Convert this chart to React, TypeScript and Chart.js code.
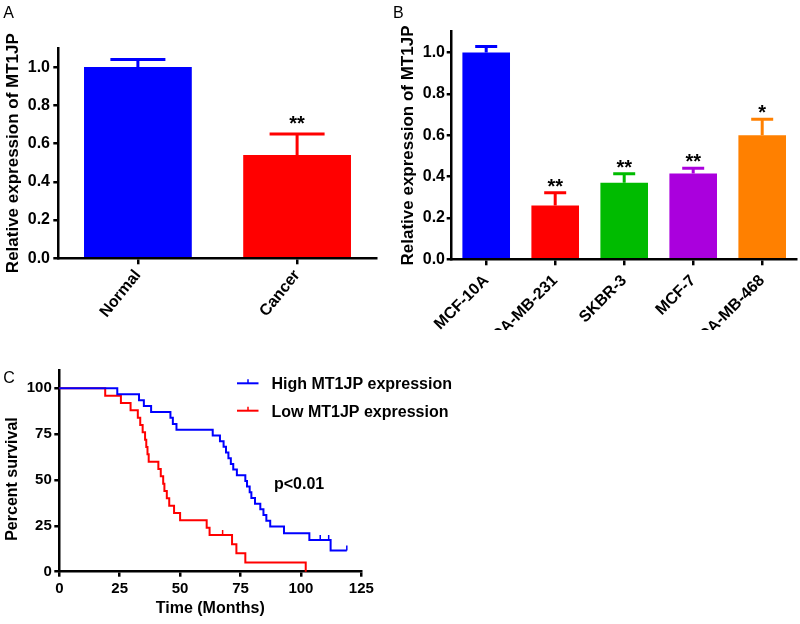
import React, { useEffect, useRef } from 'react';
import { Chart, registerables } from 'chart.js';

Chart.register(...registerables);

const FONT = "'Liberation Sans', Arial, Helvetica, sans-serif";

// ---------- Panel A ----------
const A_CATEGORIES = ['Normal', 'Cancer'];
const A_VALUES = [1.0, 0.54];
const A_ERRORS = [0.04, 0.11];
const A_COLORS = ['#0000FF', '#FF0000'];
const A_STARS = ['', '**'];
const A_Y_TICKS = [0, 0.2, 0.4, 0.6, 0.8, 1.0];

// ---------- Panel B ----------
const B_CATEGORIES = ['MCF-10A', 'MDA-MB-231', 'SKBR-3', 'MCF-7', 'MDA-MB-468'];
const B_VALUES = [1.0, 0.26, 0.37, 0.415, 0.6];
const B_ERRORS = [0.028, 0.062, 0.043, 0.025, 0.077];
const B_COLORS = ['#0000FF', '#FF0000', '#00BB00', '#AA00DD', '#FF8000'];
const B_STARS = ['', '**', '**', '**', '*'];
const B_Y_TICKS = [0, 0.2, 0.4, 0.6, 0.8, 1.0];

// ---------- Panel C ----------
const C_HIGH_TIMES = [0, 24, 33, 35, 38, 46, 47, 48.5, 63.5, 66.5, 68, 69, 70, 71, 72, 73.5, 77, 77.7, 78.8, 79.5, 81, 83.2, 84.5, 85.7, 87.3, 93, 103.5, 112.3, 119];
const C_HIGH_SURV = [100, 96.8, 93.5, 90.3, 87.1, 83.9, 80.6, 77.4, 74.3, 71.2, 68.1, 65.0, 61.9, 58.8, 55.7, 52.6, 49.5, 46.4, 43.3, 40.2, 37.1, 34.0, 30.9, 27.8, 24.7, 21.0, 17.3, 11.5, 11.5];
const C_HIGH_CENSOR = [108, 111.5, 119];
const C_LOW_TIMES = [0, 19, 25.5, 29.5, 32.5, 33.5, 34.5, 35.5, 36, 36.5, 37, 41, 42, 43, 43.5, 44.5, 45.5, 47.5, 50, 61, 62.2, 71.5, 73.3, 77, 102];
const C_LOW_SURV = [100, 96, 92, 88, 84, 80, 76, 72, 68, 64, 60, 56, 52, 48, 44, 40, 36, 32, 28, 24, 20, 15, 10, 5, 0];
const C_LOW_CENSOR = [67.6];
const C_X_TICKS = [0, 25, 50, 75, 100, 125];
const C_Y_TICKS = [0, 25, 50, 75, 100];
const C_LEGEND = ['High MT1JP expression', 'Low MT1JP expression'];
const C_COLORS = ['#0000FF', '#FF0000'];
const C_PVALUE = 'p<0.01';
const C_Y_TITLE = 'Percent survival';
const C_X_TITLE = 'Time (Months)';
const BAR_Y_TITLE = 'Relative expression of MT1JP';

function boldFont(size: number) {
  return { family: FONT, size, weight: 'bold' as const };
}

function letterPlugin(letter: string, x: number, y: number) {
  return {
    id: 'letter' + letter,
    afterDraw(chart: any) {
      const ctx = chart.ctx;
      ctx.save();
      ctx.fillStyle = '#000';
      ctx.font = `16px ${FONT}`;
      ctx.textAlign = 'left';
      ctx.textBaseline = 'alphabetic';
      ctx.fillText(letter, x, y);
      ctx.restore();
    },
  };
}

function errorPlugin(values: number[], errors: number[], colors: string[], stars: string[], capW: number, starGap: number) {
  return {
    id: 'errorBars',
    afterDatasetsDraw(chart: any) {
      const ctx = chart.ctx;
      const meta = chart.getDatasetMeta(0);
      const ys = chart.scales.y;
      ctx.save();
      meta.data.forEach((bar: any, i: number) => {
        const yv = ys.getPixelForValue(values[i]);
        const yt = ys.getPixelForValue(values[i] + errors[i]);
        ctx.strokeStyle = colors[i];
        ctx.lineWidth = 3;
        ctx.beginPath();
        ctx.moveTo(bar.x, yv);
        ctx.lineTo(bar.x, yt);
        ctx.moveTo(bar.x - capW / 2, yt);
        ctx.lineTo(bar.x + capW / 2, yt);
        ctx.stroke();
        if (stars[i]) {
          ctx.fillStyle = '#000';
          ctx.font = `bold 20px ${FONT}`;
          ctx.textAlign = 'center';
          ctx.textBaseline = 'alphabetic';
          ctx.fillText(stars[i], bar.x, yt - starGap);
        }
      });
      ctx.restore();
    },
  };
}

function axisGrid() {
  return { display: true, drawOnChartArea: false, drawTicks: true, tickLength: 5, color: '#000', lineWidth: 2.5 };
}
function axisBorder() {
  return { display: true, color: '#000', width: 2.5 };
}

function barConfig(
  cats: string[], values: number[], errors: number[], colors: string[], stars: string[], yTicks: number[],
  geo: { top: number; right: number; yW: number; xH: number; barPct: number; titlePad: number; tickPad: number; xFont: number; xRot: number; xPad: number; capW: number; starGap: number; letter: string; lx: number; ly: number }
): any {
  return {
    type: 'bar',
    data: {
      labels: cats,
      datasets: [{ data: values, backgroundColor: colors, borderWidth: 0, barPercentage: geo.barPct, categoryPercentage: 1 }],
    },
    options: {
      animation: false,
      responsive: false,
      maintainAspectRatio: false,
      devicePixelRatio: 1,
      layout: { padding: { top: geo.top, right: geo.right, left: 0, bottom: 0 } },
      plugins: { legend: { display: false }, tooltip: { enabled: false } },
      scales: {
        x: {
          type: 'category',
          offset: true,
          grid: { ...axisGrid(), offset: false, tickLength: 6 },
          border: axisBorder(),
          ticks: { autoSkip: false, minRotation: geo.xRot, maxRotation: geo.xRot, padding: geo.xPad, color: '#000', font: boldFont(geo.xFont) },
          afterFit: (s: any) => { s.height = geo.xH; },
        },
        y: {
          min: 0,
          max: 1.1,
          grid: axisGrid(),
          border: axisBorder(),
          ticks: { padding: geo.tickPad, color: '#000', font: boldFont(16), callback: (v: any) => Number(v).toFixed(1) },
          afterBuildTicks: (s: any) => { s.ticks = yTicks.map((v) => ({ value: v })); },
          afterFit: (s: any) => { s.width = geo.yW; },
          title: { display: true, text: BAR_Y_TITLE, color: '#000', font: boldFont(17), padding: { top: geo.titlePad, bottom: 0 } },
        },
      },
    },
    plugins: [errorPlugin(values, errors, colors, stars, geo.capW, geo.starGap), letterPlugin(geo.letter, geo.lx, geo.ly)],
  };
}

function kmConfig(): any {
  const extras = {
    id: 'kmExtras',
    afterDatasetsDraw(chart: any) {
      const ctx = chart.ctx;
      const xs = chart.scales.x;
      const ys = chart.scales.y;
      const survAt = (times: number[], surv: number[], t: number) => {
        let s = surv[0];
        for (let i = 0; i < times.length; i++) if (times[i] <= t) s = surv[i];
        return s;
      };
      ctx.save();
      ctx.lineWidth = 1.5;
      const groups = [
        { times: C_HIGH_TIMES, surv: C_HIGH_SURV, cens: C_HIGH_CENSOR, color: C_COLORS[0] },
        { times: C_LOW_TIMES, surv: C_LOW_SURV, cens: C_LOW_CENSOR, color: C_COLORS[1] },
      ];
      groups.forEach((g) => {
        ctx.strokeStyle = g.color;
        g.cens.forEach((t) => {
          const px = xs.getPixelForValue(t);
          const py = ys.getPixelForValue(survAt(g.times, g.surv, t));
          ctx.beginPath();
          ctx.moveTo(px, py);
          ctx.lineTo(px, py - 5);
          ctx.stroke();
        });
      });
      // legend
      const legendY = [53.3, 80.7];
      C_LEGEND.forEach((txt, i) => {
        const y = legendY[i];
        ctx.strokeStyle = C_COLORS[i];
        ctx.lineWidth = 2;
        ctx.beginPath();
        ctx.moveTo(237, y);
        ctx.lineTo(258.5, y);
        ctx.stroke();
        ctx.lineWidth = 1.5;
        ctx.beginPath();
        ctx.moveTo(248, y);
        ctx.lineTo(248, y - 4);
        ctx.stroke();
        ctx.fillStyle = '#000';
        ctx.font = `bold 16px ${FONT}`;
        ctx.textAlign = 'left';
        ctx.textBaseline = 'middle';
        ctx.fillText(txt, 271.5, y + 1.5);
      });
      ctx.font = `bold 16px ${FONT}`;
      ctx.textAlign = 'left';
      ctx.textBaseline = 'alphabetic';
      ctx.fillStyle = '#000';
      ctx.fillText(C_PVALUE, 274, 159);
      // y-axis title
      ctx.save();
      ctx.translate(12.5, 149);
      ctx.rotate(-Math.PI / 2);
      ctx.textAlign = 'center';
      ctx.textBaseline = 'middle';
      ctx.fillText(C_Y_TITLE, 0, 0);
      ctx.restore();
      ctx.restore();
    },
  };
  return {
    type: 'line',
    data: {
      datasets: [
        { label: C_LEGEND[0], data: C_HIGH_TIMES.map((t, i) => ({ x: t, y: C_HIGH_SURV[i] })), borderColor: C_COLORS[0], borderWidth: 2, pointRadius: 0, stepped: true, fill: false, clip: false },
        { label: C_LEGEND[1], data: C_LOW_TIMES.map((t, i) => ({ x: t, y: C_LOW_SURV[i] })), borderColor: C_COLORS[1], borderWidth: 2, pointRadius: 0, stepped: true, fill: false, clip: false },
      ],
    },
    options: {
      animation: false,
      responsive: false,
      maintainAspectRatio: false,
      devicePixelRatio: 1,
      layout: { padding: { top: 40, right: 118.7, left: 0, bottom: 0 } },
      plugins: { legend: { display: false }, tooltip: { enabled: false } },
      scales: {
        x: {
          type: 'linear',
          min: 0,
          max: 125,
          grid: axisGrid(),
          border: axisBorder(),
          ticks: { padding: 3, color: '#000', font: boldFont(15), maxRotation: 0 },
          afterBuildTicks: (s: any) => { s.ticks = C_X_TICKS.map((v) => ({ value: v })); },
          afterFit: (s: any) => { s.height = 52.3; },
          title: { display: true, text: C_X_TITLE, color: '#000', font: boldFont(16), padding: { top: 0, bottom: 5.4 } },
        },
        y: {
          min: 0,
          max: 110,
          grid: axisGrid(),
          border: axisBorder(),
          ticks: { padding: 2.5, color: '#000', font: boldFont(15) },
          afterBuildTicks: (s: any) => { s.ticks = C_Y_TICKS.map((v) => ({ value: v })); },
          afterFit: (s: any) => { s.width = 59.3; },
        },
      },
    },
    plugins: [extras, letterPlugin('C', 3.3, 53.3)],
  };
}

export default function App() {
  const refA = useRef<HTMLCanvasElement>(null);
  const refB = useRef<HTMLCanvasElement>(null);
  const refC = useRef<HTMLCanvasElement>(null);

  useEffect(() => {
    Chart.defaults.font.family = FONT;
    const charts: Chart[] = [];
    if (refA.current) {
      charts.push(new Chart(refA.current, barConfig(A_CATEGORIES, A_VALUES, A_ERRORS, A_COLORS, A_STARS, A_Y_TICKS, {
        top: 48, right: 23.3, yW: 58.3, xH: 71.7, barPct: 0.677, titlePad: 3, tickPad: 3.3, xFont: 16, xRot: 51, xPad: 2, capW: 55, starGap: 4, letter: 'A', lx: 3.3, ly: 18.3,
      })));
    }
    if (refB.current) {
      charts.push(new Chart(refB.current, barConfig(B_CATEGORIES, B_VALUES, B_ERRORS, B_COLORS, B_STARS, B_Y_TICKS, {
        top: 31.7, right: 3.3, yW: 61.7, xH: 70.7, barPct: 0.69, titlePad: 7.9, tickPad: 1.7, xFont: 16, xRot: 45, xPad: 6, capW: 22, starGap: 0, letter: 'B', lx: 3, ly: 18.3,
      })));
    }
    if (refC.current) {
      charts.push(new Chart(refC.current, kmConfig()));
    }
    return () => { charts.forEach((c) => c.destroy()); };
  }, []);

  return (
    <div style={{ position: 'fixed', left: 0, top: 0, width: 800, height: 624, background: '#fff', overflow: 'hidden' }}>
      <canvas ref={refA} width={400} height={330} style={{ position: 'absolute', left: 0, top: 0, width: 400, height: 330 }} />
      <canvas ref={refB} width={410} height={330} style={{ position: 'absolute', left: 390, top: 0, width: 410, height: 330 }} />
      <canvas ref={refC} width={480} height={294} style={{ position: 'absolute', left: 0, top: 330, width: 480, height: 294 }} />
    </div>
  );
}
